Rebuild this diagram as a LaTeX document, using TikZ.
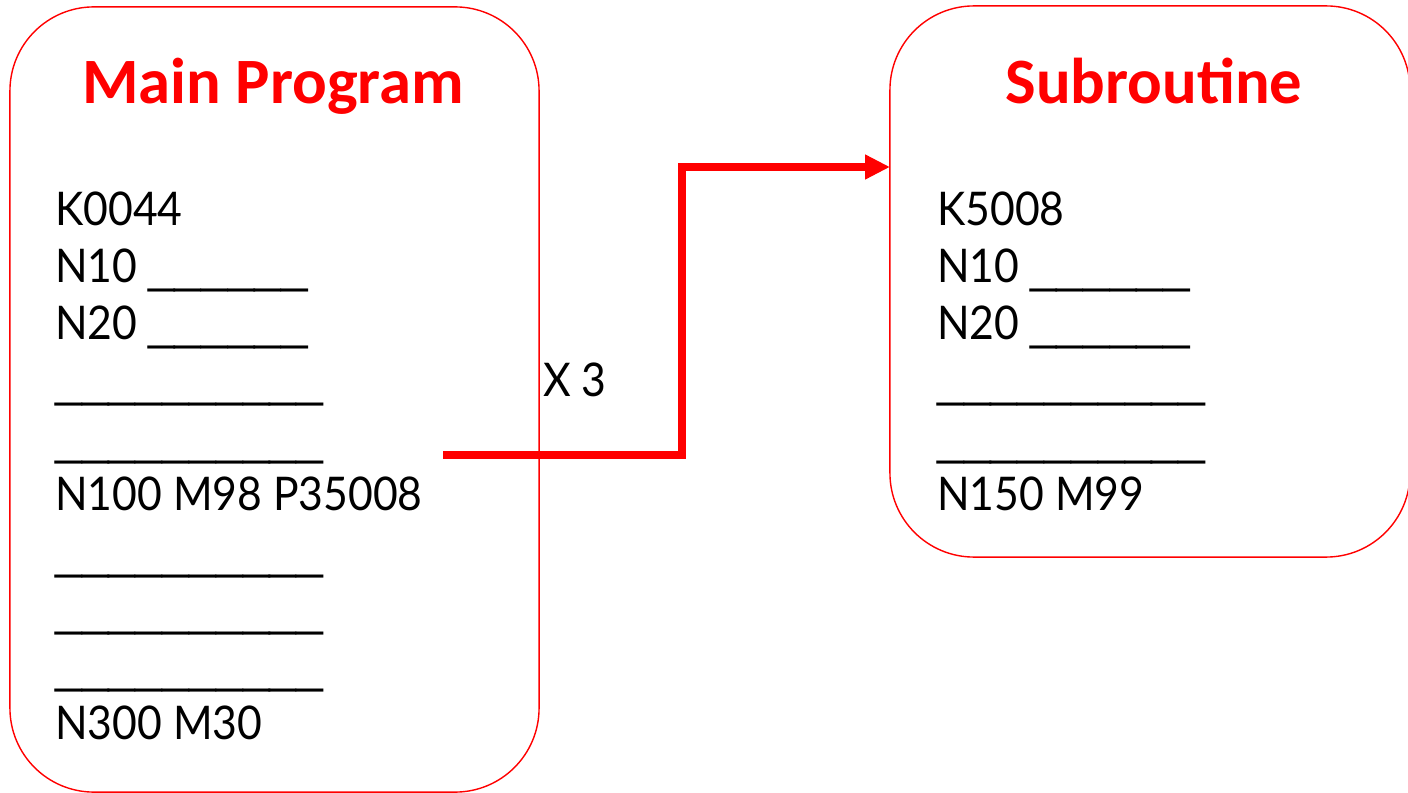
\documentclass[tikz,border=0pt]{standalone}
\usepackage{fontspec}
\setmainfont{Lato}[FakeStretch=0.92]
\newfontfamily\titlefont{Carlito}
\newfontfamily\blankfont{Liberation Sans}
\usetikzlibrary{arrows.meta, positioning, calc}
\newcommand\shortblank{{\blankfont\fontsize{34}{40}\selectfont\_\_\_\_\_\_}}
\newcommand\longblank{{\blankfont\fontsize{34.3}{40}\selectfont\_\_\_\_\_\_\_\_\_\_}}
\tikzset{
    block/.style={draw=red, line width=1pt, rounded corners=2.1cm, inner sep=0pt},
    heading/.style={font=\titlefont\bfseries\fontsize{46}{52}\selectfont, text=red, anchor=base, inner sep=0pt},
    codeline/.style={font=\fontsize{33}{40}\selectfont, anchor=base west, inner sep=0pt},
    call/.style={-{Triangle[length=0.62cm, width=0.58cm]}, red, line width=5pt}
}

\begin{document}
\begin{tikzpicture}[x=0.025cm, y=-0.025cm]
\useasboundingbox (0,0) rectangle (1408,793);

% Boxes
\node[block, minimum width=13.225cm, minimum height=19.625cm] (main) at (274.5,399.5) {};
\node[block, minimum width=13cm, minimum height=13.775cm] (sub) at (1150,281.5) {};

% Headings
\node[heading] (mainhead) at (273,104) {Main Program};
\node[heading] (subhead) at (1154,104) {Subroutine};

% Program lines
\foreach \txt [count=\i] in {K0044, N10 \shortblank, N20 \shortblank,
    \longblank, \longblank, N100 M98 P35008,
    \longblank, \longblank, \longblank, N300 M30}
  \node[codeline] (m\i) at (55,{226+57*(\i-1)}) {\txt};

% Subroutine lines
\foreach \txt [count=\i] in {K5008, N10 \shortblank, N20 \shortblank,
    \longblank, \longblank, N150 M99}
  \node[codeline] (s\i) at (937,{226+57*(\i-1)}) {\txt};

% Call
\node[codeline] (times) at (543,397) {X 3};
\coordinate (callpt) at (443,455);
\coordinate (entry) at (890,167);
\draw[call] (callpt) -- ++(239,0) |- (entry);
\end{tikzpicture}
\end{document}
